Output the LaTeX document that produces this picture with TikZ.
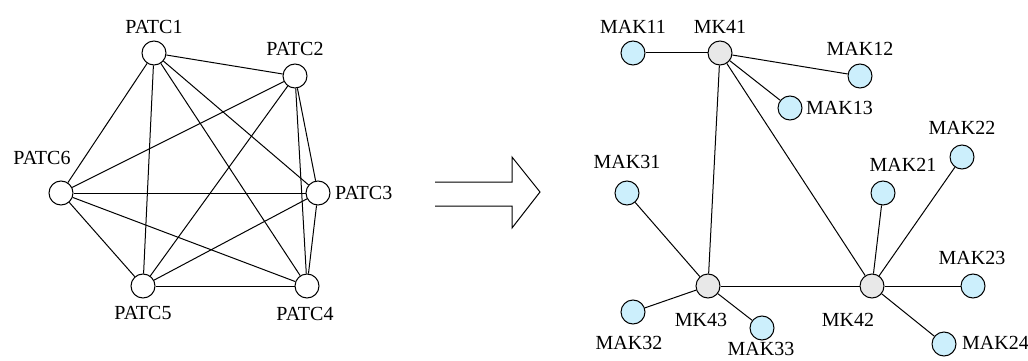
\documentclass[tikz,border=0pt]{standalone}
\usepackage{fontspec}
\setmainfont{Liberation Serif}
\begin{document}
\begin{tikzpicture}[x=1pt,y=-1pt,
  vert/.style={circle,draw,line width=1pt,minimum size=24pt,inner sep=0pt,fill=white},
  leaf/.style={vert,fill=cyan!20},
  hub/.style={vert,fill=gray!18},
  lbl/.style={font=\fontsize{20}{20}\selectfont,inner sep=0pt},
  edge/.style={line width=1pt}]
\useasboundingbox (0,0) rectangle (1028,361);
% left graph
\node[vert] (p1) at (154,53) {};
\node[vert] (p2) at (295,76) {};
\node[vert] (p3) at (318,193) {};
\node[vert] (p4) at (307,286) {};
\node[vert] (p5) at (143,286) {};
\node[vert] (p6) at (61,193) {};
\node[lbl] (l1) at (154,27) {PATC1};
\node[lbl] (l2) at (295,49) {PATC2};
\node[lbl,anchor=west] (l3) at (335,193) {PATC3};
\node[lbl] (l4) at (305,314) {PATC4};
\node[lbl] (l5) at (143,313) {PATC5};
\node[lbl] (l6) at (42,158) {PATC6};
\foreach \a/\b in {p1/p2,p1/p3,p1/p4,p1/p5,p1/p6,p2/p3,p2/p4,p2/p5,p2/p6,p3/p4,p3/p5,p3/p6,p4/p5,p4/p6,p5/p6}
  \draw[edge] (\a) -- (\b);
% arrow
\coordinate (a1) at (435,182);
\coordinate (a2) at (435,206);
\draw[line width=1pt,line join=miter] (a1) -- (512,182) -- (512,157) -- (540,192) -- (512,228) -- (512,206) -- (a2);
% right graph
\node[hub] (h1) at (720,53) {};
\node[hub] (h2) at (872,286) {};
\node[hub] (h3) at (708,286) {};
\node[leaf] (m11) at (633,53) {};
\node[leaf] (m12) at (860,76) {};
\node[leaf] (m13) at (790,108) {};
\node[leaf] (m21) at (883,193) {};
\node[leaf] (m22) at (962,157) {};
\node[leaf] (m23) at (973,286) {};
\node[leaf] (m24) at (944,344) {};
\node[leaf] (m31) at (627,193) {};
\node[leaf] (m32) at (633,312) {};
\node[leaf] (m33) at (762,328) {};
\node[lbl] at (720,27) {MK41};
\node[lbl] at (848,320) {MK42};
\node[lbl] at (701,320) {MK43};
\node[lbl] at (633,27) {MAK11};
\node[lbl] at (860,49) {MAK12};
\node[lbl,anchor=west] at (806,108) {MAK13};
\node[lbl] at (903,165) {MAK21};
\node[lbl] at (962,128) {MAK22};
\node[lbl] at (972,258) {MAK23};
\node[lbl,anchor=west] at (962,343) {MAK24};
\node[lbl] at (627,162) {MAK31};
\node[lbl] at (629,343) {MAK32};
\node[lbl] at (761,349) {MAK33};
\foreach \a/\b in {m11/h1,h1/m12,h1/m13,h1/h3,h1/h2,m31/h3,h3/m32,h3/m33,h3/h2,h2/m21,h2/m22,h2/m23,h2/m24}
  \draw[edge] (\a) -- (\b);
\end{tikzpicture}
\end{document}
